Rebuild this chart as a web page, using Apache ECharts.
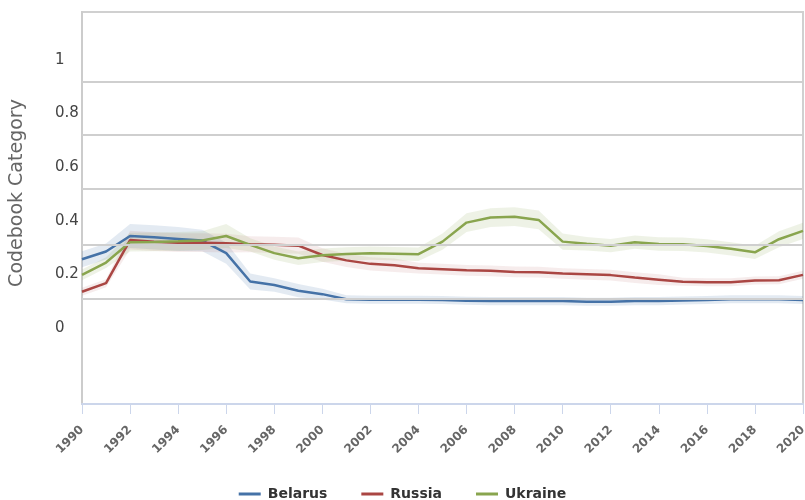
<!DOCTYPE html>
<html>
<head>
<meta charset="utf-8">
<script src="https://cdn.jsdelivr.net/npm/echarts@6/dist/echarts.min.js"></script>
<style>
  html, body { margin: 0; padding: 0; background: #fff; }
  #chart { width: 805px; height: 500px; }
</style>
</head>
<body>
<div id="chart"></div>
<script>
const years = [1990,1991,1992,1993,1994,1995,1996,1997,1998,1999,2000,2001,2002,2003,2004,2005,2006,2007,2008,2009,2010,2011,2012,2013,2014,2015,2016,2017,2018,2019,2020];

const belarus = [0.256,0.285,0.343,0.338,0.332,0.326,0.279,0.173,0.160,0.139,0.126,0.107,0.105,0.105,0.105,0.104,0.101,0.100,0.100,0.100,0.100,0.098,0.098,0.100,0.100,0.102,0.104,0.107,0.107,0.107,0.104];
const belarusLow  = [0.226,0.255,0.298,0.293,0.287,0.286,0.239,0.143,0.135,0.114,0.106,0.092,0.090,0.090,0.090,0.089,0.086,0.085,0.085,0.085,0.085,0.083,0.083,0.085,0.085,0.087,0.089,0.092,0.092,0.092,0.089];
const belarusHigh = [0.286,0.315,0.388,0.383,0.377,0.366,0.319,0.203,0.185,0.164,0.146,0.122,0.120,0.120,0.120,0.119,0.116,0.115,0.115,0.115,0.115,0.113,0.113,0.115,0.115,0.117,0.119,0.122,0.122,0.122,0.119];

const russia = [0.135,0.167,0.328,0.322,0.318,0.318,0.316,0.312,0.310,0.307,0.272,0.252,0.239,0.234,0.223,0.219,0.215,0.213,0.209,0.208,0.203,0.200,0.197,0.188,0.180,0.172,0.170,0.170,0.177,0.178,0.198];
const russiaLow  = [0.120,0.152,0.293,0.287,0.283,0.283,0.281,0.282,0.280,0.277,0.247,0.227,0.214,0.209,0.203,0.199,0.195,0.193,0.189,0.188,0.183,0.180,0.177,0.168,0.160,0.157,0.155,0.155,0.162,0.163,0.183];
const russiaHigh = [0.150,0.182,0.363,0.357,0.353,0.353,0.351,0.342,0.340,0.337,0.297,0.277,0.264,0.259,0.243,0.239,0.235,0.233,0.229,0.228,0.223,0.220,0.217,0.208,0.200,0.187,0.185,0.185,0.192,0.193,0.213];

const ukraine = [0.198,0.244,0.320,0.321,0.323,0.326,0.343,0.310,0.279,0.260,0.271,0.276,0.279,0.277,0.275,0.322,0.393,0.412,0.415,0.403,0.322,0.314,0.307,0.320,0.313,0.312,0.306,0.295,0.282,0.331,0.362];
const ukraineLow  = [0.178,0.224,0.285,0.286,0.288,0.291,0.298,0.285,0.254,0.235,0.246,0.251,0.254,0.252,0.250,0.292,0.358,0.377,0.380,0.368,0.292,0.289,0.282,0.295,0.288,0.287,0.281,0.270,0.257,0.301,0.332];
const ukraineHigh = [0.218,0.264,0.355,0.356,0.358,0.361,0.388,0.335,0.304,0.285,0.296,0.301,0.304,0.302,0.300,0.352,0.428,0.447,0.450,0.438,0.352,0.339,0.332,0.345,0.338,0.337,0.331,0.320,0.307,0.361,0.392];

const yTickLabels = [0, 0.2, 0.4, 0.6, 0.8, 1];
const gridValues = [0.114, 0.314, 0.515, 0.716, 0.915];
const countries = ['Belarus', 'Russia', 'Ukraine'];

const colors = ['#4572A7', '#AA4643', '#89A54E'];
const bandColors = ['rgba(69,114,167,0.15)', 'rgba(170,70,67,0.10)', 'rgba(137,165,78,0.14)'];

const FONT = '"DejaVu Sans", Verdana, sans-serif';

const valueSets = [
  [belarus, belarusLow, belarusHigh],
  [russia, russiaLow, russiaHigh],
  [ukraine, ukraineLow, ukraineHigh]
];

const series = [];

// horizontal gridlines at fixed values
series.push({
  type: 'line',
  name: 'grid',
  data: [],
  silent: true,
  z: 0,
  markLine: {
    silent: true,
    symbol: ['none', 'none'],
    label: { show: false },
    lineStyle: { color: '#cfcfcf', width: 2, type: 'solid' },
    data: gridValues.map(g => ({ yAxis: g }))
  }
});

// confidence bands as polygons through the axis scales
valueSets.forEach((set, k) => {
  const lo = set[1], hi = set[2];
  series.push({
    type: 'custom',
    name: countries[k] + ' band',
    silent: true,
    z: 1,
    data: years.map((y, i) => [y, lo[i], hi[i]]),
    encode: { x: 0, y: [1, 2] },
    renderItem: function (params, api) {
      if (params.dataIndex !== 0) return null;
      const top = years.map((y, i) => api.coord([y, hi[i]]));
      const bottom = years.map((y, i) => api.coord([y, lo[i]])).reverse();
      return {
        type: 'polygon',
        shape: { points: top.concat(bottom) },
        style: { fill: bandColors[k] }
      };
    }
  });
});

valueSets.forEach((set, k) => {
  series.push({
    type: 'line',
    name: countries[k],
    data: years.map((y, i) => [y, set[0][i]]),
    symbol: 'none',
    color: colors[k],
    lineStyle: { color: colors[k], width: 2.5 },
    z: 3
  });
});

const chart = echarts.init(document.getElementById('chart'), null, { renderer: 'canvas' });
chart.setOption({
  animation: false,
  textStyle: { fontFamily: FONT },
  grid: {
    left: 82, right: 2, top: 12, bottom: 96,
    outerBoundsMode: 'none',
    containLabel: false,
    show: true, borderColor: '#d0d0d0', borderWidth: 2, backgroundColor: 'transparent'
  },
  legend: {
    data: countries,
    left: 'center',
    top: 482,
    icon: 'rect',
    itemWidth: 22,
    itemHeight: 3,
    itemGap: 34,
    textStyle: { fontFamily: FONT, fontSize: 14, fontWeight: 'bold', color: '#333', padding: [0, 0, 0, 2] }
  },
  xAxis: {
    type: 'value',
    min: 1990,
    max: 2020,
    interval: 2,
    axisLine: { show: true, onZero: false, lineStyle: { color: '#ccd6eb', width: 2 } },
    axisTick: { show: true, length: 10, lineStyle: { color: '#ccd6eb', width: 1 } },
    splitLine: { show: false },
    axisLabel: {
      rotate: 45,
      margin: 24,
      fontSize: 12,
      fontWeight: 'bold',
      color: '#666',
      fontFamily: FONT,
      formatter: v => String(v)
    }
  },
  yAxis: {
    type: 'value',
    min: -0.284,
    max: 1.179,
    name: 'Codebook Category',
    nameLocation: 'middle',
    nameGap: 55,
    nameTextStyle: { fontSize: 19, color: '#666', fontFamily: FONT, padding: [0, 0, 0, 30] },
    axisLine: { show: true, lineStyle: { color: '#cccccc', width: 2 } },
    axisTick: { show: false },
    splitLine: { show: false },
    axisLabel: {
      customValues: yTickLabels,
      align: 'left',
      margin: 27,
      fontSize: 15,
      color: '#444',
      fontFamily: FONT,
      formatter: v => String(+v.toFixed(1))
    }
  },
  series: series
});
</script>
</body>
</html>
